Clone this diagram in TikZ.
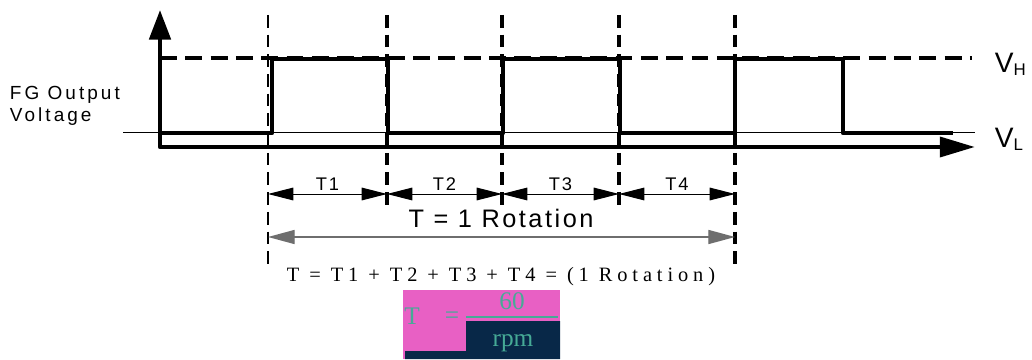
\documentclass[tikz,border=0pt]{standalone}
\usepackage{fontspec}
\setmainfont{Liberation Sans}
\newfontfamily\formulafont{Liberation Serif}
\usetikzlibrary{arrows.meta,positioning}
\definecolor{boxpink}{RGB}{232,96,196}
\definecolor{boxnavy}{RGB}{8,40,72}
\definecolor{boxteal}{RGB}{70,170,150}
\definecolor{dimgray}{RGB}{110,110,110}
\tikzset{
  signal/.style={line width=3.2pt, line join=round},
  axes/.style={line width=3.2pt, line join=round,
    {Triangle[length=21pt,width=15pt]}-{Triangle[length=25pt,width=14pt]}},
  highlevel/.style={line width=3pt, dash pattern=on 12pt off 6pt},
  edgeline/.style={line width=2.5pt, dash pattern=on 9pt off 5pt},
  dimline/.style={line width=0.7pt,
    {Triangle[length=18pt,width=9pt]}-{Triangle[length=18pt,width=9pt]}},
  rotline/.style={line width=1pt, draw=dimgray,
    {Triangle[length=19pt,width=10pt]}-{Triangle[length=19pt,width=10pt]}},
  dimlabel/.style={fill=white, inner sep=1.5pt, font=\fontsize{13}{13}\selectfont\addfontfeature{LetterSpace=10}},
  boxtext/.style={text=boxteal, inner sep=0pt, font=\formulafont\fontsize{18}{18}\selectfont}
}
\begin{document}
\begin{tikzpicture}[x=0.025cm,y=-0.025cm]
  \useasboundingbox (0,0) rectangle (1032,360);

  % Low reference level
  \draw[line width=0.7pt] (123,132) -- (975,132);

  % High reference level
  \draw[highlevel] (160,58) -- (972,58);

  % Axes
  \coordinate (origin) at (160,147);
  \coordinate (ytip) at (160,10);
  \coordinate (xtip) at (975,147);
  \draw[axes] (ytip) -- (origin) -- (xtip);

  % FG output signal
  \draw[signal] (160,133) -- (272,133) -- (272,59) -- (388,59) -- (388,133)
    -- (503,133) -- (503,59) -- (620,59) -- (620,133) -- (735,133)
    -- (735,59) -- (843,59) -- (843,133) -- (953,133);

  % Edge markers
  \foreach \x [count=\i] in {268,387,502,619,735} {
    \coordinate (top\i) at (\x,15);
    \coordinate (bot\i) at (\x,205);
    \coordinate (dim\i) at (\x,194);
    \coordinate (rot\i) at (\x,237);
  }
  \coordinate (bot1) at (268,265);
  \coordinate (bot5) at (735,265);
  \draw[edgeline, line width=1.5pt] (top1) -- (bot1);
  \foreach \i in {2,3,4,5} {
    \draw[edgeline] (top\i) -- (bot\i);
  }

  % Period dimensions
  \foreach \i [evaluate=\i as \j using int(\i+1)] in {1,2,3,4} {
    \draw[dimline] (dim\i) -- node[dimlabel, yshift=7pt] (lab\i) {T\i} (dim\j);
  }

  % Rotation dimension
  \node (rotation) at (501,218) {\fontsize{18}{18}\selectfont\addfontfeature{LetterSpace=10}T = 1 Rotation};
  \draw[rotline] (rot1) -- (rot5);

  % Formula
  \node (sum) at (501,277) {\formulafont\fontsize{14.5}{14.5}\selectfont\addfontfeature{LetterSpace=24}T = T1 + T2 + T3 + T4 = (1 Rotation)};

  % Formula box
  \fill[boxpink] (403,290) rectangle (560,359);
  \fill[boxnavy] (466,321) -- (560,321) -- (560,359) -- (405,359) -- (405,351) -- (466,351) -- cycle;
  \draw[boxteal, line width=1pt] (466,317) -- (558,317);
  \node[boxtext] (num) at (512,301) {60};
  \node[boxtext] (den) at (513,343) {rpm};
  \node[boxtext] (tee) at (412,316) {T};
  \node[boxtext] (eq) at (452,318) {=};

  % Labels
  \node[anchor=west, align=left, font=\fontsize{13.5}{16}\selectfont\addfontfeature{LetterSpace=16}] (ylabel) at (5,106) {FG Output\\Voltage};
  \node[anchor=west, font=\fontsize{20}{20}\selectfont] (vh) at (990,64) {V\raisebox{-2pt}{\fontsize{12}{12}\selectfont H}};
  \node[anchor=west, font=\fontsize{20}{20}\selectfont] (vl) at (990,139) {V\raisebox{-2pt}{\fontsize{12}{12}\selectfont L}};
\end{tikzpicture}
\end{document}
